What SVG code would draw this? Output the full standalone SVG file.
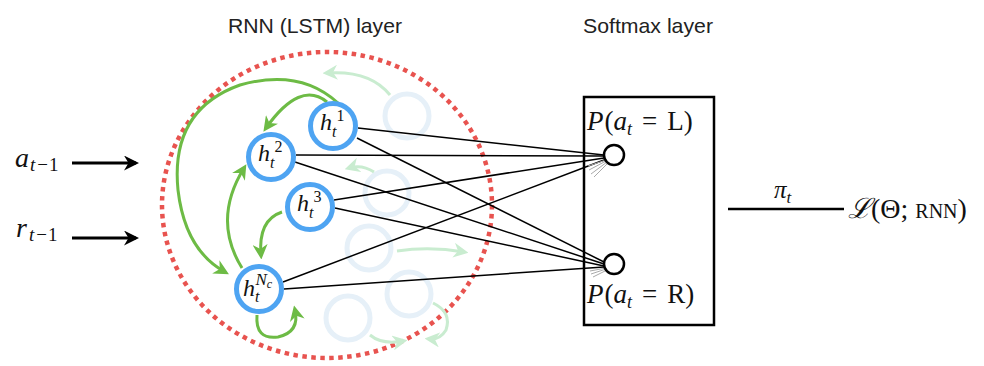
<svg xmlns="http://www.w3.org/2000/svg" width="984" height="366" viewBox="0 0 984 366">
<defs>
<marker id="gh" viewBox="0 0 10 10" refX="7" refY="5" markerWidth="5" markerHeight="5" orient="auto" markerUnits="strokeWidth"><path d="M0,0 L10,5 L0,10 L3,5 z" fill="#6dbb45"/></marker>
<marker id="fh" viewBox="0 0 10 10" refX="7" refY="5" markerWidth="5" markerHeight="5" orient="auto" markerUnits="strokeWidth"><path d="M0,0 L10,5 L0,10 L3,5 z" fill="#c9ecd0"/></marker>
<marker id="bh" viewBox="0 0 10 10" refX="8" refY="5" markerWidth="5" markerHeight="5" orient="auto" markerUnits="strokeWidth"><path d="M0,0 L10,5 L0,10 L3,5 z" fill="#000"/></marker>
</defs>
<style>
.title{font-family:"Liberation Sans",Arial,sans-serif;font-size:21px;fill:#222}
.m{font-family:"Liberation Serif","Times New Roman",serif;font-style:italic;fill:#111}
.r{font-style:normal}
.node{fill:#fff;stroke:#4ea4f2;stroke-width:5}
.ghost{fill:none;stroke:#e6f0f8;stroke-width:5}
.g{fill:none;stroke:#6dbb45;stroke-width:3;marker-end:url(#gh)}
.f{fill:none;stroke:#c9ecd0;stroke-width:3;marker-end:url(#fh)}
.e{stroke:#000;stroke-width:1.5}
.h{stroke:#aaa;stroke-width:1}
.out{fill:#fff;stroke:#000;stroke-width:2.5}
</style>
<rect width="984" height="366" fill="#fff"/>
<text class="title" x="228" y="33" textLength="174" lengthAdjust="spacingAndGlyphs">RNN (LSTM) layer</text>
<text class="title" x="583" y="33" textLength="130" lengthAdjust="spacingAndGlyphs">Softmax layer</text>

<ellipse cx="327" cy="205" rx="165" ry="153" fill="none" stroke="#e8534f" stroke-width="4.5" stroke-dasharray="4.5 4.5"/>

<g id="ghosts">
<circle class="ghost" cx="407" cy="116" r="22"/>
<circle class="ghost" cx="387" cy="193" r="22"/>
<circle class="ghost" cx="369" cy="248" r="22"/>
<circle class="ghost" cx="409" cy="294" r="22"/>
<circle class="ghost" cx="348" cy="318" r="22"/>
<path class="f" d="M390,95 Q370,70 327,73"/>
<path class="f" d="M374,172 Q362,164 349,168"/>
<path class="f" d="M397,251 Q430,246 464,252"/>
<path class="f" d="M370,335 Q382,345 403,341"/>
<path class="f" d="M433,303 Q452,312 446,330 Q440,340 429,339"/>
</g>

<g id="connectors">
<line class="e" x1="358" y1="128" x2="604" y2="155"/>
<line class="e" x1="357" y1="138" x2="604" y2="262"/>
<line class="e" x1="296" y1="155" x2="604" y2="156"/>
<line class="e" x1="295" y1="162" x2="604" y2="264"/>
<line class="e" x1="334" y1="200" x2="604" y2="158"/>
<line class="e" x1="335" y1="208" x2="604" y2="266"/>
<line class="e" x1="283" y1="282" x2="604" y2="160"/>
<line class="e" x1="284" y1="289" x2="604" y2="267"/>
<line class="h" x1="606" y1="160" x2="588" y2="166"/>
<line class="h" x1="606" y1="161" x2="589" y2="170"/>
<line class="h" x1="607" y1="162" x2="591" y2="174"/>
<line class="h" x1="608" y1="163" x2="594" y2="177"/>
<line class="h" x1="606" y1="268" x2="590" y2="271"/>
<line class="h" x1="606" y1="269" x2="591" y2="274"/>
<line class="h" x1="607" y1="270" x2="593" y2="277"/>
<path class="g" d="M327,102 Q300,80 266,128"/>
<path class="g" d="M338,103 Q300,68 240,85 Q170,110 178,190 Q185,250 225,272"/>
<path class="g" d="M242,268 Q212,220 244,168"/>
<path class="g" d="M282,212 Q258,220 261,255"/>
<path class="g" d="M257,315 Q255,340 278,337 Q300,332 295,310"/>
<line x1="72" y1="163" x2="136" y2="163" stroke="#000" stroke-width="3" marker-end="url(#bh)"/>
<line x1="72" y1="238" x2="136" y2="238" stroke="#000" stroke-width="3" marker-end="url(#bh)"/>
<line x1="728" y1="209" x2="844" y2="209" stroke="#000" stroke-width="2.5"/>
</g>

<g id="h1"><circle class="node" cx="333" cy="126" r="22.5"/><text class="m" x="320" y="130" font-size="24">h<tspan font-size="16" dy="7">t</tspan><tspan font-size="16" dy="-16" class="r">1</tspan></text></g>
<g id="h2"><circle class="node" cx="271" cy="157" r="22.5"/><text class="m" x="258" y="161" font-size="24">h<tspan font-size="16" dy="7">t</tspan><tspan font-size="16" dy="-16" class="r">2</tspan></text></g>
<g id="h3"><circle class="node" cx="310" cy="207" r="22.5"/><text class="m" x="297" y="211" font-size="24">h<tspan font-size="16" dy="7">t</tspan><tspan font-size="16" dy="-16" class="r">3</tspan></text></g>
<g id="hNc"><circle class="node" cx="259" cy="289" r="22.5"/><text class="m" x="243" y="296" font-size="24">h<tspan font-size="16" dy="6">t</tspan><tspan font-size="17" dx="-4" dy="-17">N</tspan><tspan font-size="12" dy="3">c</tspan></text></g>

<g id="inputs">
<text class="m" x="15" y="167" font-size="28">a<tspan font-size="19" dx="1" dy="4">t</tspan><tspan font-size="19" class="r" dx="2">−</tspan><tspan font-size="19" class="r" dx="1">1</tspan></text>
<text class="m" x="16" y="237" font-size="28">r<tspan font-size="19" dx="2" dy="4">t</tspan><tspan font-size="19" class="r" dx="2">−</tspan><tspan font-size="19" class="r" dx="1">1</tspan></text>
</g>

<g id="softmax">
<rect x="584" y="97" width="130" height="228" fill="none" stroke="#000" stroke-width="2.5"/>
<text class="m" x="587" y="130" font-size="27">P<tspan class="r" dx="1">(</tspan>a<tspan font-size="18" dy="5">t</tspan><tspan class="r" dy="-5" dx="10">=</tspan><tspan class="r" dx="10">L)</tspan></text>
<text class="m" x="587" y="303" font-size="27">P<tspan class="r" dx="1">(</tspan>a<tspan font-size="18" dy="5">t</tspan><tspan class="r" dy="-5" dx="10">=</tspan><tspan class="r" dx="10">R)</tspan></text>
</g>
<g id="outL"><circle class="out" cx="614" cy="155" r="10"/></g>
<g id="outR"><circle class="out" cx="614" cy="264" r="10"/></g>

<g id="loss">
<text class="m" x="774" y="198" font-size="25">π<tspan font-size="17" dy="5">t</tspan></text>
<text class="m" x="848" y="218" font-size="28" font-family="'DejaVu Serif','Liberation Serif',serif">ℒ<tspan class="r" font-family="'Liberation Serif',serif">(Θ;<tspan font-size="20" dx="7">RNN</tspan>)</tspan></text>
</g>
</svg>
